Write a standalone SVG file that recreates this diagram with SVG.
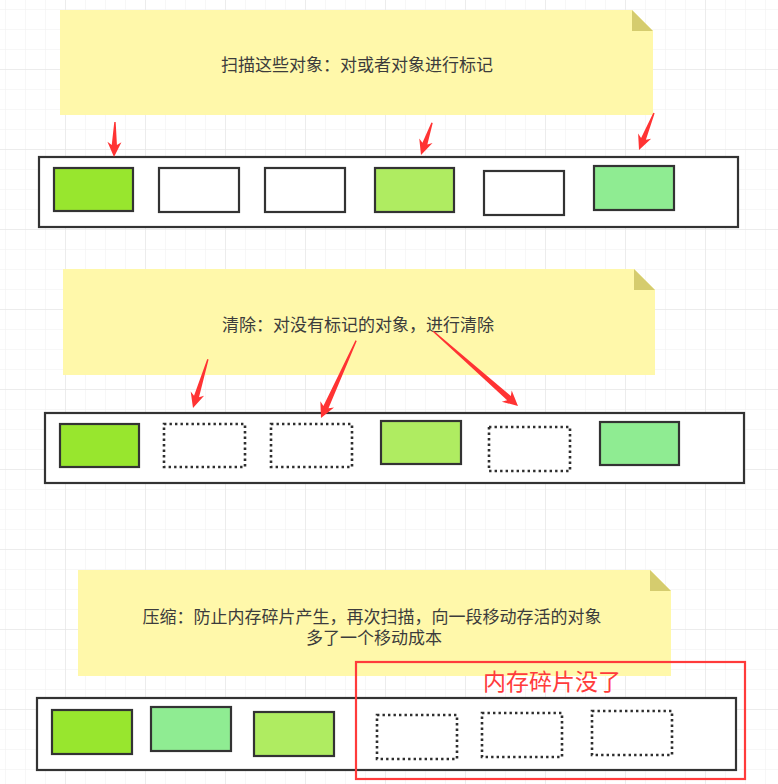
<svg xmlns="http://www.w3.org/2000/svg" width="778" height="784" viewBox="0 0 778 784">
  <defs>
    <pattern id="gridMinor" x="5" y="9" width="20" height="20" patternUnits="userSpaceOnUse">
      <path d="M0 0H20M0 0V20" fill="none" stroke="#efefef" stroke-width="1"/>
    </pattern>
    <pattern id="gridMajor" x="65" y="69" width="80" height="80" patternUnits="userSpaceOnUse">
      <path d="M0 0H80M0 0V80" fill="none" stroke="#e2e2e2" stroke-width="1"/>
    </pattern>
    <style>
      .note { fill: #fff8aa; }
      .fold { fill: #d5cc6e; }
      .note-text { font-family: "Noto Sans CJK SC", "Noto Sans", sans-serif; font-size: 17px; fill: #3c3c3c; text-anchor: middle; dominant-baseline: central; }
      .strip { fill: #ffffff; stroke: #333333; stroke-width: 2.2; }
      .obj { stroke: #333333; stroke-width: 2.2; }
      .live-a { fill: #98e62e; }
      .live-b { fill: #afec61; }
      .live-c { fill: #8fec92; }
      .empty { fill: #ffffff; }
      .freed { fill: #ffffff; stroke: #2e2e2e; stroke-width: 2.6; stroke-dasharray: 2.4 3.1; }
      .arrow { fill: #ff3333; }
      .callout { fill: none; stroke: #ff3b3b; stroke-width: 2.2; }
      .callout-text { font-family: "Noto Sans CJK SC", "Noto Sans", sans-serif; font-size: 23px; fill: #ff3b3b; text-anchor: middle; dominant-baseline: central; }
    </style>
  </defs>

  <!-- background grid -->
  <rect width="778" height="784" fill="#ffffff"/>
  <rect width="778" height="784" fill="url(#gridMinor)"/>
  <rect width="778" height="784" fill="url(#gridMajor)"/>

  <!-- step 1: mark -->
  <g id="note-mark">
    <path class="note" d="M60 10H632L653 31V115H60Z"/>
    <path class="fold" d="M632 10L653 31H632Z"/>
    <text class="note-text" x="357" y="63">扫描这些对象：对或者对象进行标记</text>
  </g>
  <g id="heap-mark">
    <rect class="strip" x="39" y="157" width="699" height="70"/>
    <rect class="obj live-a" x="54" y="168" width="79" height="43"/>
    <rect class="obj empty" x="159" y="168" width="80" height="44"/>
    <rect class="obj empty" x="265" y="168" width="80" height="44"/>
    <rect class="obj live-b" x="375" y="168" width="79" height="44"/>
    <rect class="obj empty" x="484" y="171" width="80" height="44"/>
    <rect class="obj live-c" x="594" y="166" width="80" height="44"/>
  </g>

  <!-- step 2: sweep -->
  <g id="note-sweep">
    <path class="note" d="M63 269H634L655 290V375H63Z"/>
    <path class="fold" d="M634 269L655 290H634Z"/>
    <text class="note-text" x="358" y="323">清除：对没有标记的对象，进行清除</text>
  </g>
  <g id="heap-sweep">
    <rect class="strip" x="45" y="413" width="699" height="70"/>
    <rect class="obj live-a" x="60" y="424" width="79" height="43"/>
    <rect class="freed" x="164" y="424" width="81" height="43"/>
    <rect class="freed" x="271" y="424" width="81" height="43"/>
    <rect class="obj live-b" x="381" y="421" width="80" height="43"/>
    <rect class="freed" x="489" y="427" width="81" height="44"/>
    <rect class="obj live-c" x="600" y="422" width="79" height="43"/>
  </g>

  <!-- step 3: compact -->
  <g id="note-compact">
    <path class="note" d="M78 570H650L671 591V676H78Z"/>
    <path class="fold" d="M650 570L671 591H650Z"/>
    <text class="note-text">
      <tspan x="374" y="615">压缩：防止内存碎片产生，再次扫描，向一段移动存活的对象</tspan>
      <tspan x="374" y="636">多了一个移动成本</tspan>
    </text>
  </g>
  <g id="heap-compact">
    <rect class="strip" x="37" y="698" width="699" height="72"/>
    <rect class="obj live-a" x="52" y="710" width="80" height="44"/>
    <rect class="obj live-c" x="151" y="707" width="80" height="44"/>
    <rect class="obj live-b" x="254" y="712" width="80" height="44"/>
    <rect class="freed" x="377" y="715" width="80" height="44"/>
    <rect class="freed" x="482" y="713" width="80" height="44"/>
    <rect class="freed" x="592" y="711" width="80" height="44"/>
  </g>
  <g id="callout-compact">
    <rect class="callout" x="356" y="662" width="389" height="117"/>
    <text class="callout-text" x="552" y="680">内存碎片没了</text>
  </g>

  <!-- connectors: tapered red arrows, tip at origin pointing along +x -->
  <g id="connectors">
    <polygon class="arrow" transform="translate(114 157) rotate(91.6)" points="-35,-0.7 -12,-2.6 -15,-7 0,0 -15,7 -12,2.6 -35,0.7"/>
    <polygon class="arrow" transform="translate(421 155) rotate(109)" points="-34,-0.7 -12,-2.6 -15,-7 0,0 -15,7 -12,2.6 -34,0.7"/>
    <polygon class="arrow" transform="translate(639 150) rotate(112)" points="-40,-0.7 -12,-2.6 -15,-7 0,0 -15,7 -12,2.6 -40,0.7"/>
    <polygon class="arrow" transform="translate(193 408) rotate(107)" points="-51,-0.7 -12,-2.6 -15,-7 0,0 -15,7 -12,2.6 -51,0.7"/>
    <polygon class="arrow" transform="translate(321 418) rotate(114.4)" points="-85,-0.7 -12,-2.8 -15,-7.5 0,0 -15,7.5 -12,2.8 -85,0.7"/>
    <polygon class="arrow" transform="translate(518 406) rotate(41.4)" points="-113,-0.7 -12,-2.8 -15,-7.5 0,0 -15,7.5 -12,2.8 -113,0.7"/>
  </g>
</svg>
